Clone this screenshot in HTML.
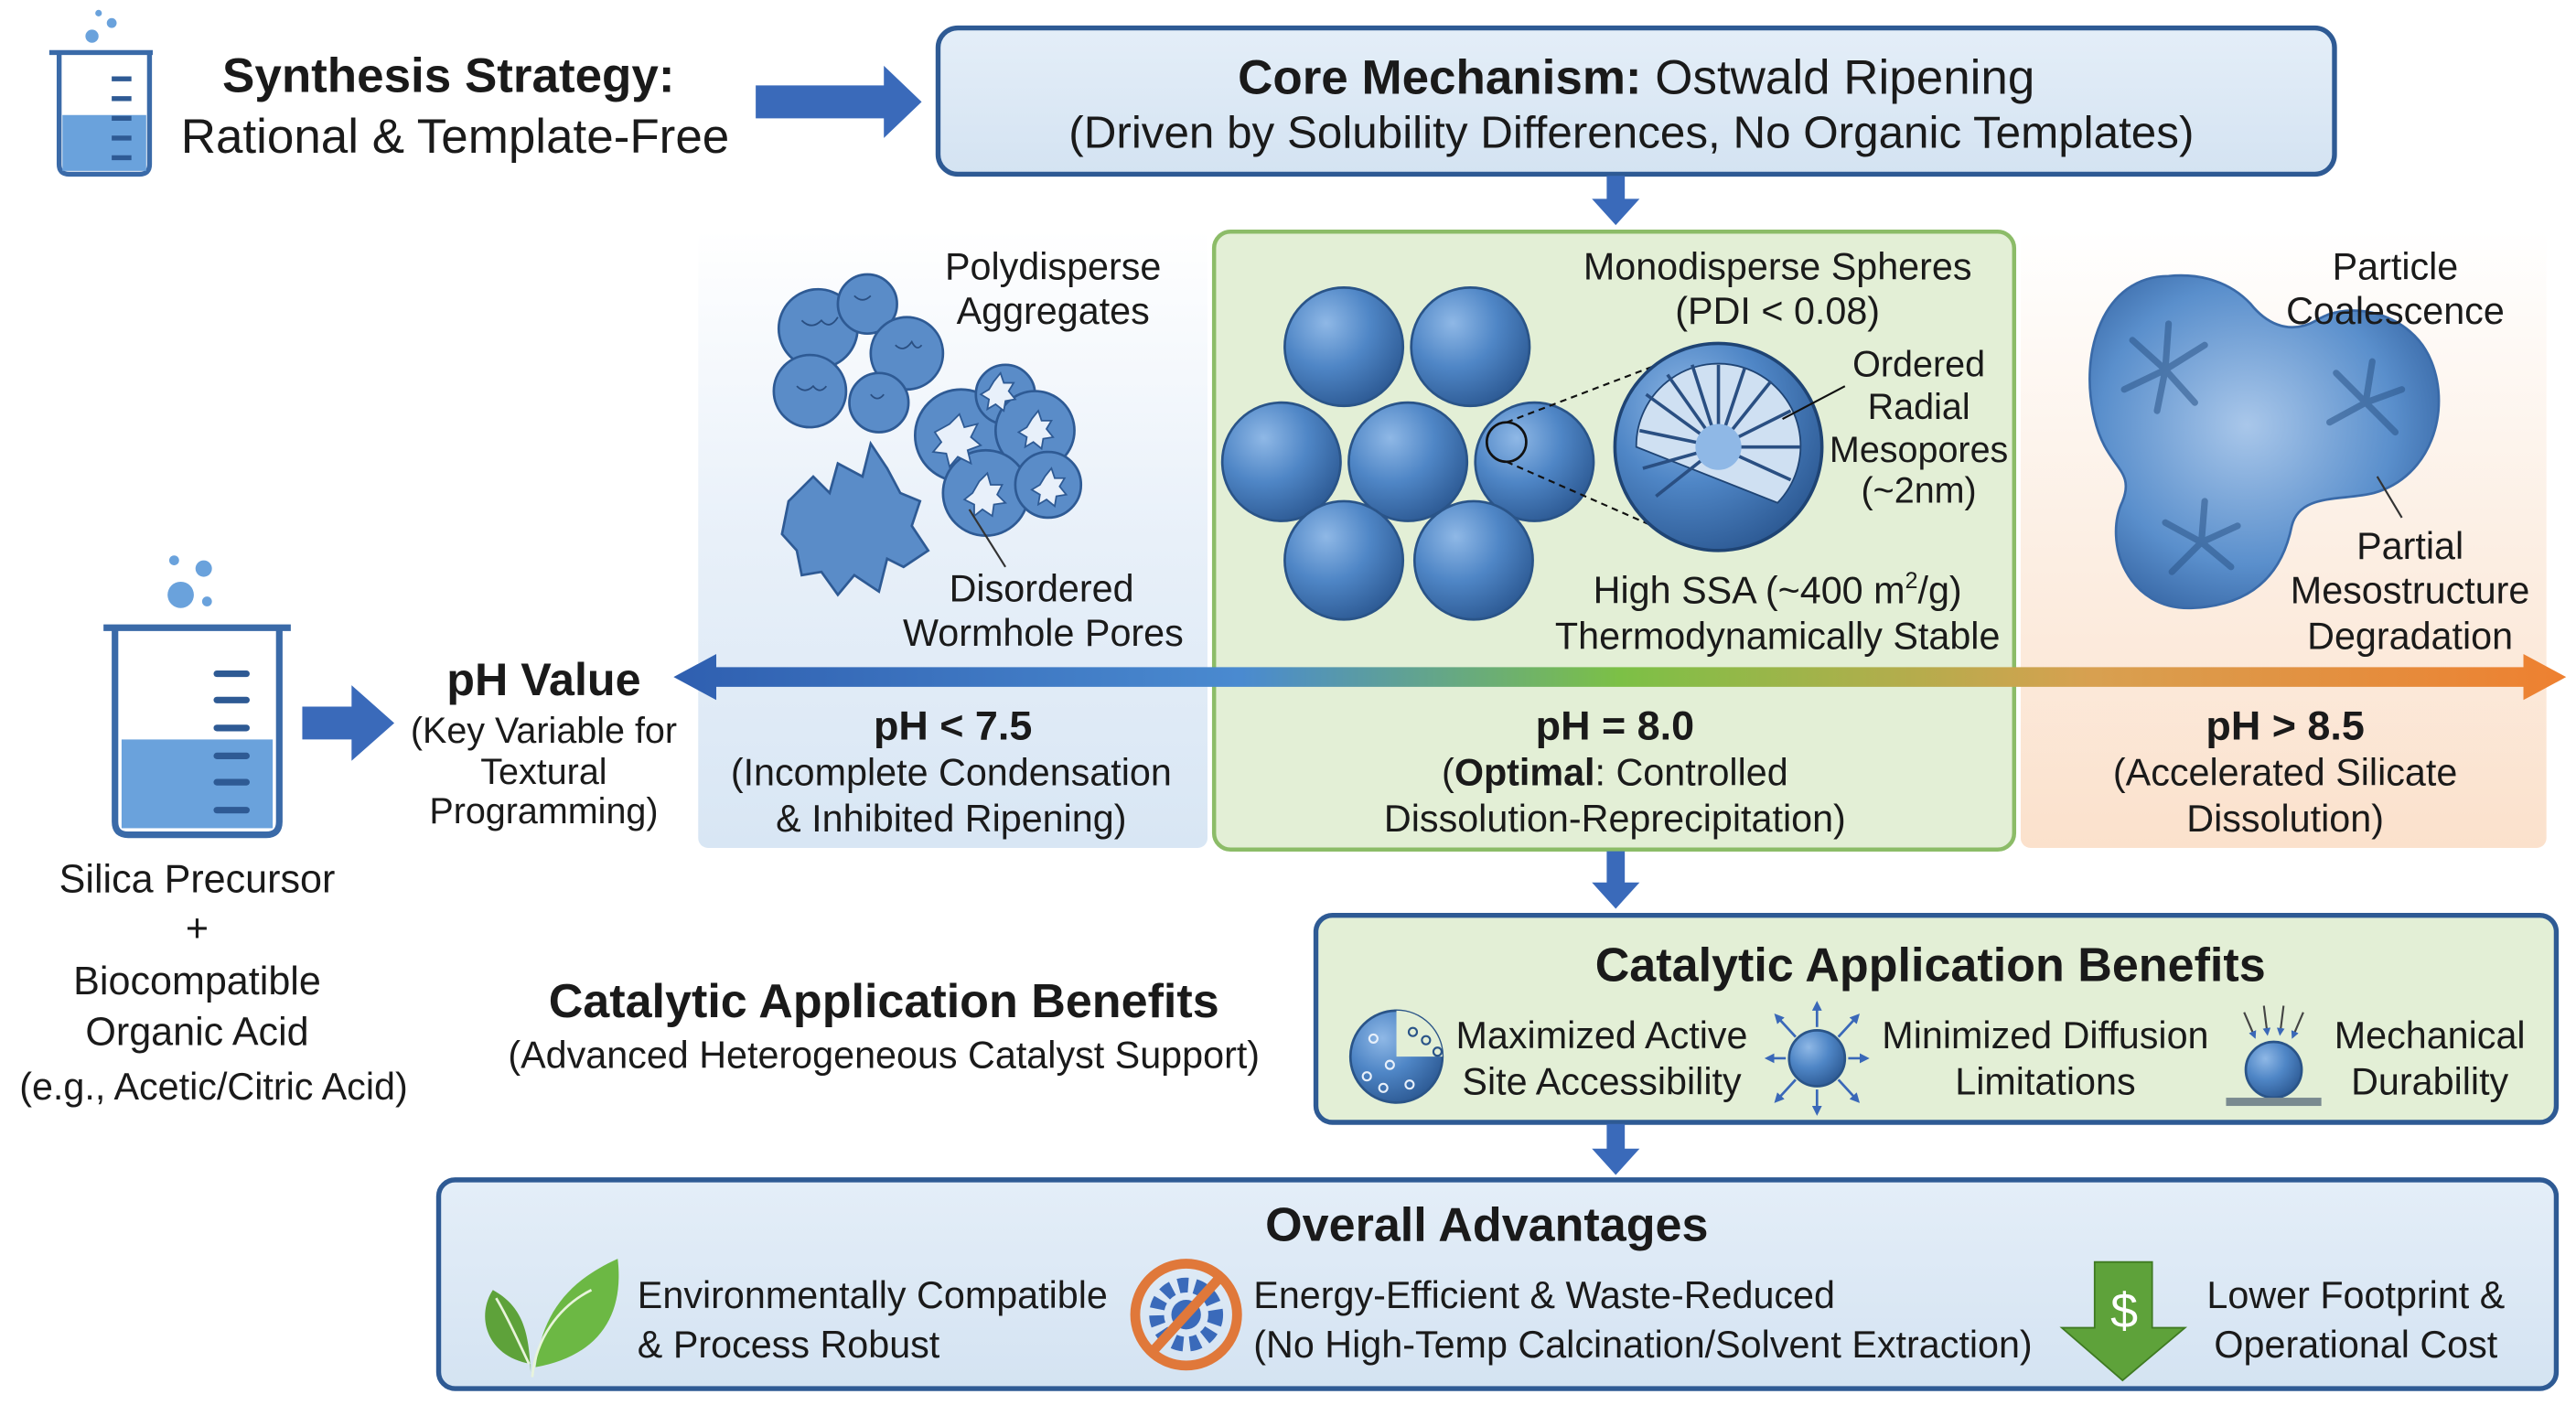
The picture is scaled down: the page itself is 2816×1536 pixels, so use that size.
<!DOCTYPE html>
<html><head><meta charset="utf-8"><style>
html,body{margin:0;padding:0;background:#fff;}
svg{display:block;}
text{font-family:"Liberation Sans",sans-serif;fill:#1a1a1a;}
</style></head><body>
<svg width="2816" height="1536" viewBox="0 0 1568 855" preserveAspectRatio="none" xmlns="http://www.w3.org/2000/svg">
<defs>
<linearGradient id="lb" x1="0" y1="0" x2="0" y2="1"><stop offset="0" stop-color="#fff"/><stop offset="0.5" stop-color="#e8f0f9"/><stop offset="1" stop-color="#d8e6f4"/></linearGradient>
<linearGradient id="ob" x1="0" y1="0" x2="0" y2="1"><stop offset="0" stop-color="#fff"/><stop offset="0.5" stop-color="#fcefe4"/><stop offset="1" stop-color="#fbe1cc"/></linearGradient>
<linearGradient id="ph" x1="0" y1="0" x2="1" y2="0"><stop offset="0" stop-color="#2f5fb0"/><stop offset="0.3" stop-color="#4a8ad0"/><stop offset="0.5" stop-color="#7cc046"/><stop offset="0.75" stop-color="#d8a050"/><stop offset="1" stop-color="#ee8030"/></linearGradient>
<linearGradient id="cb" x1="0" y1="0" x2="0" y2="1"><stop offset="0" stop-color="#e4eef8"/><stop offset="1" stop-color="#d4e3f2"/></linearGradient>
<radialGradient id="sp" cx="0.35" cy="0.3" r="0.75"><stop offset="0" stop-color="#8fb8e6"/><stop offset="0.5" stop-color="#4f86c6"/><stop offset="1" stop-color="#2d5a94"/></radialGradient>
<radialGradient id="bl" cx="0.45" cy="0.45" r="0.6"><stop offset="0" stop-color="#a9c7ea"/><stop offset="0.7" stop-color="#5a8fcc"/><stop offset="1" stop-color="#3a6aa8"/></radialGradient>
<marker id="ah" markerWidth="4" markerHeight="4" refX="2" refY="2" orient="auto"><path d="M0,0L4,2L0,4z" fill="#3a68b8"/></marker>
</defs>

<g stroke="#3a6aa8" stroke-width="3" fill="none">
<path d="M30,32 H93 M36,32 V100 Q36,106 42,106 H85 Q91,106 91,100 V32"/>
</g>
<rect x="38" y="70" width="51" height="34" fill="#6aa2dc"/>
<g stroke="#2e5a94" stroke-width="3"><line x1="68" y1="48" x2="80" y2="48"/><line x1="68" y1="60" x2="80" y2="60"/><line x1="68" y1="72" x2="80" y2="72"/><line x1="68" y1="84" x2="80" y2="84"/><line x1="68" y1="96" x2="80" y2="96"/></g>
<circle cx="56" cy="22" r="4" fill="#6aa2dc"/><circle cx="68" cy="14" r="3" fill="#6aa2dc"/><circle cx="60" cy="8" r="2" fill="#6aa2dc"/>

<text x="273" y="56" font-size="29.5" font-weight="bold" text-anchor="middle">Synthesis Strategy:</text>
<text x="277" y="93" font-size="29.5" text-anchor="middle">Rational &amp; Template-Free</text>

<path d="M460,52 H538 V40 L561,62 L538,84 V72 H460 Z" fill="#3a6aba"/>

<rect x="571" y="17" width="850" height="89" rx="12" fill="url(#cb)" stroke="#2e5a94" stroke-width="3"/>
<text x="996" y="57" font-size="29.5" text-anchor="middle"><tspan font-weight="bold">Core Mechanism:</tspan> Ostwald Ripening</text>
<text x="993" y="90" font-size="27.5" text-anchor="middle">(Driven by Solubility Differences, No Organic Templates)</text>

<path d="M978,107 H989 V121 H998 L983.5,137 L969,121 H978 Z" fill="#3a6aba"/>

<rect x="425" y="140" width="310" height="376" rx="6" fill="url(#lb)"/>
<rect x="1230" y="140" width="320" height="376" rx="6" fill="url(#ob)"/>
<rect x="739" y="141" width="487" height="376" rx="10" fill="#e3efd6" stroke="#8cbc68" stroke-width="2.5"/>

<g fill="#5a8cc8" stroke="#2e5a94" stroke-width="1.5">
<circle cx="498" cy="200" r="24"/><circle cx="528" cy="185" r="18"/><circle cx="552" cy="215" r="22"/><circle cx="493" cy="238" r="22"/><circle cx="535" cy="245" r="18"/>
<circle cx="585" cy="265" r="28"/><circle cx="612" cy="240" r="18"/><circle cx="630" cy="262" r="24"/><circle cx="600" cy="300" r="26"/><circle cx="638" cy="295" r="20"/>
<path d="M480,305 L495,290 L505,300 L510,282 L525,290 L530,270 L540,285 L548,300 L560,305 L555,320 L565,335 L550,345 L540,340 L535,360 L520,350 L510,362 L500,348 L488,350 L485,335 L476,325 Z"/>
</g>
<g stroke="#2a4f82" stroke-width="1" fill="none">
<path d="M488,195 q6,6 12,0 q5,6 10,-2 M520,180 q5,5 10,0 M545,210 q5,5 10,-2 q3,6 6,2 M485,235 q5,5 10,0 q4,5 8,0 M530,240 q4,5 8,0"/>
</g>
<g fill="#e8f0fa" stroke="#2e5a94" stroke-width="1">
<path d="M578,258 l6,-6 3,8 8,-2 -4,8 6,5 -8,3 2,8 -8,-4 -5,6 -2,-8 -8,-1 5,-6 -4,-6 z"/>
<path d="M605,232 l4,-5 2,6 6,0 -3,5 4,5 -6,1 -1,6 -5,-4 -5,3 1,-6 -5,-3 5,-3 z"/>
<path d="M628,255 l4,-5 2,6 6,0 -3,5 4,5 -6,1 -1,6 -5,-4 -5,3 1,-6 -5,-3 5,-3 z"/>
<path d="M596,293 l5,-5 2,7 7,0 -3,6 5,5 -7,1 -1,7 -6,-4 -5,4 0,-7 -6,-3 5,-4 z"/>
<path d="M636,290 l4,-5 2,6 6,0 -3,5 4,5 -6,1 -1,6 -5,-4 -5,3 1,-6 -5,-3 5,-3 z"/>
</g>
<line x1="590" y1="310" x2="612" y2="345" stroke="#333" stroke-width="1.2"/>
<text x="641" y="170" font-size="23" text-anchor="middle">Polydisperse</text>
<text x="641" y="197" font-size="23" text-anchor="middle">Aggregates</text>
<text x="634" y="366" font-size="23" text-anchor="middle">Disordered</text>
<text x="635" y="393" font-size="23" text-anchor="middle">Wormhole Pores</text>

<g fill="url(#sp)" stroke="#2a5488" stroke-width="1.5">
<circle cx="818" cy="211" r="36"/><circle cx="895" cy="211" r="36"/>
<circle cx="780" cy="281" r="36"/><circle cx="857" cy="281" r="36"/><circle cx="934" cy="281" r="36"/>
<circle cx="818" cy="341" r="36"/><circle cx="897" cy="341" r="36"/>
</g>
<circle cx="917" cy="269" r="12" fill="none" stroke="#111" stroke-width="1.5"/>
<line x1="917" y1="257" x2="1035" y2="212" stroke="#111" stroke-width="1.2" stroke-dasharray="4,3"/>
<line x1="917" y1="281" x2="1040" y2="335" stroke="#111" stroke-width="1.2" stroke-dasharray="4,3"/>
<circle cx="1046" cy="272" r="63" fill="url(#sp)" stroke="#1f4474" stroke-width="2"/>
<path d="M1046,272 m-50,0 a50,50 0 1,1 86,34 z" fill="#cfe0f2" stroke="#1f4474" stroke-width="1"/>
<g stroke="#2a4f82" stroke-width="2">
<line x1="1046" y1="272" x2="998" y2="262"/><line x1="1046" y1="272" x2="1002" y2="240"/><line x1="1046" y1="272" x2="1015" y2="228"/><line x1="1046" y1="272" x2="1030" y2="222"/><line x1="1046" y1="272" x2="1046" y2="222"/><line x1="1046" y1="272" x2="1062" y2="224"/><line x1="1046" y1="272" x2="1078" y2="232"/><line x1="1046" y1="272" x2="1090" y2="250"/><line x1="1046" y1="272" x2="1096" y2="272"/><line x1="1046" y1="272" x2="1090" y2="292"/><line x1="1046" y1="272" x2="1000" y2="285"/><line x1="1046" y1="272" x2="1008" y2="302"/>
</g>
<circle cx="1046" cy="272" r="14" fill="#8fb8e6"/>
<line x1="1085" y1="255" x2="1123" y2="235" stroke="#111" stroke-width="1.2"/>
<text x="1082" y="170" font-size="23" text-anchor="middle">Monodisperse Spheres</text>
<text x="1082" y="197" font-size="23" text-anchor="middle">(PDI &lt; 0.08)</text>
<text x="1168" y="229" font-size="22" text-anchor="middle">Ordered</text>
<text x="1168" y="255" font-size="22" text-anchor="middle">Radial</text>
<text x="1168" y="281" font-size="22" text-anchor="middle">Mesopores</text>
<text x="1168" y="306" font-size="22" text-anchor="middle">(~2nm)</text>
<text x="1082" y="367" font-size="23" text-anchor="middle">High SSA (~400 m<tspan font-size="14" dy="-9">2</tspan><tspan dy="9">/g)</tspan></text>
<text x="1082" y="395" font-size="23" text-anchor="middle">Thermodynamically Stable</text>

<path d="M1320,168 C1280,168 1265,215 1275,255 C1282,285 1300,285 1292,305 C1280,330 1295,372 1335,370 C1375,368 1390,345 1395,320 C1400,300 1425,305 1445,300 C1480,290 1492,250 1480,220 C1468,190 1430,182 1410,195 C1392,205 1378,195 1370,185 C1358,172 1340,166 1320,168 Z" fill="url(#bl)" stroke="#3a6aa8" stroke-width="1.5"/>
<g stroke="#2a5488" stroke-width="4" opacity="0.55" stroke-linecap="round">
<path d="M1318,225 l-20,-18 M1318,225 l2,-28 M1318,225 l24,-15 M1318,225 l-25,12 M1318,225 l18,20 M1318,225 l-5,25"/>
<path d="M1440,245 l-18,-18 M1440,245 l4,-25 M1440,245 l22,-8 M1440,245 l-22,12 M1440,245 l18,18"/>
<path d="M1340,330 l-22,-12 M1340,330 l2,-25 M1340,330 l22,-10 M1340,330 l-18,18 M1340,330 l18,15"/>
</g>
<line x1="1447" y1="290" x2="1462" y2="315" stroke="#333" stroke-width="1.2"/>
<text x="1458" y="170" font-size="23" text-anchor="middle">Particle</text>
<text x="1458" y="197" font-size="23" text-anchor="middle">Coalescence</text>
<text x="1467" y="340" font-size="23" text-anchor="middle">Partial</text>
<text x="1467" y="367" font-size="23" text-anchor="middle">Mesostructure</text>
<text x="1467" y="395" font-size="23" text-anchor="middle">Degradation</text>

<path d="M410,412 L436,398 V406 H1536 V398 L1562,412 L1536,426 V418 H436 V426 Z" fill="url(#ph)"/>

<text x="331" y="423" font-size="28" font-weight="bold" text-anchor="middle">pH Value</text>
<text x="331" y="452" font-size="22" text-anchor="middle">(Key Variable for</text>
<text x="331" y="477" font-size="22" text-anchor="middle">Textural</text>
<text x="331" y="501" font-size="22" text-anchor="middle">Programming)</text>

<text x="580" y="450" font-size="25" font-weight="bold" text-anchor="middle">pH &lt; 7.5</text>
<text x="579" y="478" font-size="23" text-anchor="middle">(Incomplete Condensation</text>
<text x="579" y="506" font-size="23" text-anchor="middle">&amp; Inhibited Ripening)</text>
<text x="983" y="450" font-size="25" font-weight="bold" text-anchor="middle">pH = 8.0</text>
<text x="983" y="478" font-size="23" text-anchor="middle">(<tspan font-weight="bold">Optimal</tspan>: Controlled</text>
<text x="983" y="506" font-size="23" text-anchor="middle">Dissolution-Reprecipitation)</text>
<text x="1391" y="450" font-size="25" font-weight="bold" text-anchor="middle">pH &gt; 8.5</text>
<text x="1391" y="478" font-size="23" text-anchor="middle">(Accelerated Silicate</text>
<text x="1391" y="506" font-size="23" text-anchor="middle">Dissolution)</text>

<g stroke="#3a6aa8" stroke-width="4" fill="none">
<path d="M63,382 H177 M70,382 V500 Q70,508 78,508 H162 Q170,508 170,500 V382"/>
</g>
<rect x="74" y="450" width="92" height="54" fill="#6aa2dc"/>
<g stroke="#2e5a94" stroke-width="4" stroke-linecap="round"><line x1="132" y1="410" x2="150" y2="410"/><line x1="132" y1="426" x2="150" y2="426"/><line x1="132" y1="443" x2="150" y2="443"/><line x1="132" y1="460" x2="150" y2="460"/><line x1="132" y1="476" x2="150" y2="476"/><line x1="132" y1="493" x2="150" y2="493"/></g>
<circle cx="110" cy="362" r="8" fill="#6aa2dc"/><circle cx="126" cy="366" r="3" fill="#6aa2dc"/><circle cx="106" cy="341" r="3" fill="#6aa2dc"/><circle cx="124" cy="346" r="5" fill="#6aa2dc"/>
<path d="M184,430 H214 V417 L240,440 L214,463 V450 H184 Z" fill="#3a6aba"/>

<text x="120" y="543" font-size="24" text-anchor="middle">Silica Precursor</text>
<text x="120" y="573" font-size="24" text-anchor="middle">+</text>
<text x="120" y="605" font-size="24" text-anchor="middle">Biocompatible</text>
<text x="120" y="636" font-size="24" text-anchor="middle">Organic Acid</text>
<text x="130" y="669" font-size="23" text-anchor="middle">(e.g., Acetic/Citric Acid)</text>

<path d="M978,518 H989 V537 H998 L983.5,553 L969,537 H978 Z" fill="#3a6aba"/>

<text x="538" y="619" font-size="29" font-weight="bold" text-anchor="middle">Catalytic Application Benefits</text>
<text x="538" y="650" font-size="23" text-anchor="middle">(Advanced Heterogeneous Catalyst Support)</text>

<rect x="801" y="557" width="755" height="126" rx="10" fill="#e3efd6" stroke="#2e5a94" stroke-width="3"/>
<text x="1175" y="597" font-size="29" font-weight="bold" text-anchor="middle">Catalytic Application Benefits</text>
<circle cx="850" cy="643" r="28" fill="url(#sp)" stroke="#2a5488" stroke-width="1.5"/>
<path d="M850,643 V615 A28,28 0 0,1 878,643 Z" fill="#e3efd6"/>
<g fill="none" stroke="#e8f0fa" stroke-width="1.2"><circle cx="836" cy="632" r="2.5"/><circle cx="846" cy="648" r="2.5"/><circle cx="832" cy="655" r="2.5"/><circle cx="858" cy="660" r="2.5"/><circle cx="842" cy="662" r="2.5"/></g>
<g fill="none" stroke="#2a5488" stroke-width="1.2"><circle cx="860" cy="628" r="2.5"/><circle cx="868" cy="633" r="2.5"/><circle cx="875" cy="640" r="2.5"/></g>
<text x="975" y="638" font-size="23" text-anchor="middle">Maximized Active</text>
<text x="975" y="666" font-size="23" text-anchor="middle">Site Accessibility</text>
<circle cx="1106" cy="644" r="17" fill="url(#sp)" stroke="#2a5488" stroke-width="1.5"/>
<g stroke="#3a68b8" stroke-width="1.5" marker-end="url(#ah)">
<line x1="1106" y1="625" x2="1106" y2="612"/><line x1="1106" y1="663" x2="1106" y2="676"/><line x1="1087" y1="644" x2="1077" y2="644"/><line x1="1125" y1="644" x2="1135" y2="644"/>
<line x1="1093" y1="631" x2="1082" y2="619"/><line x1="1119" y1="631" x2="1130" y2="619"/><line x1="1093" y1="657" x2="1082" y2="669"/><line x1="1119" y1="657" x2="1130" y2="669"/>
</g>
<text x="1245" y="638" font-size="23" text-anchor="middle">Minimized Diffusion</text>
<text x="1245" y="666" font-size="23" text-anchor="middle">Limitations</text>
<circle cx="1384" cy="651" r="17" fill="url(#sp)" stroke="#2a5488" stroke-width="1.5"/>
<rect x="1355" y="668" width="58" height="5" fill="#7a8a90"/>
<g stroke="#444" stroke-width="1.2" marker-end="url(#ah)"><line x1="1378" y1="612" x2="1380" y2="628"/><line x1="1390" y1="612" x2="1388" y2="628"/><line x1="1366" y1="616" x2="1372" y2="630"/><line x1="1402" y1="616" x2="1396" y2="630"/></g>
<text x="1479" y="638" font-size="23" text-anchor="middle">Mechanical</text>
<text x="1479" y="666" font-size="23" text-anchor="middle">Durability</text>

<path d="M978,684 H989 V699 H998 L983.5,715 L969,699 H978 Z" fill="#3a6aba"/>

<rect x="267" y="718" width="1289" height="127" rx="10" fill="url(#cb)" stroke="#2e5a94" stroke-width="3"/>
<text x="905" y="755" font-size="29" font-weight="bold" text-anchor="middle">Overall Advantages</text>
<path d="M323,835 C322,810 318,795 300,785 C290,800 295,825 323,830 Z" fill="#5ea23a"/>
<path d="M326,832 C330,800 345,780 376,766 C380,800 365,825 326,832 Z" fill="#6cb844"/>
<path d="M324,838 C326,815 340,795 360,785 M322,830 C315,815 308,800 302,790" stroke="#e8f4dc" stroke-width="1.5" fill="none"/>
<text x="388" y="796" font-size="23">Environmentally Compatible</text>
<text x="388" y="826" font-size="23">&amp; Process Robust</text>
<circle cx="722" cy="800" r="31" fill="none" stroke="#e0783a" stroke-width="6"/>
<circle cx="722" cy="800" r="18" fill="none" stroke="#3a6aba" stroke-width="9" stroke-dasharray="6,4"/>
<circle cx="722" cy="800" r="9" fill="#3a6aba"/>
<line x1="702" y1="822" x2="742" y2="778" stroke="#e0783a" stroke-width="6"/>
<text x="763" y="796" font-size="23">Energy-Efficient &amp; Waste-Reduced</text>
<text x="763" y="826" font-size="23">(No High-Temp Calcination/Solvent Extraction)</text>
<path d="M1275,768 H1310 V808 H1330 L1292,840 L1255,808 H1275 Z" fill="#5ea23a" stroke="#3f7a22" stroke-width="1"/>
<text x="1293" y="808" font-size="30" text-anchor="middle" style="fill:#fff">$</text>
<text x="1434" y="796" font-size="23" text-anchor="middle">Lower Footprint &amp;</text>
<text x="1434" y="826" font-size="23" text-anchor="middle">Operational Cost</text>
</svg>
</body></html>
